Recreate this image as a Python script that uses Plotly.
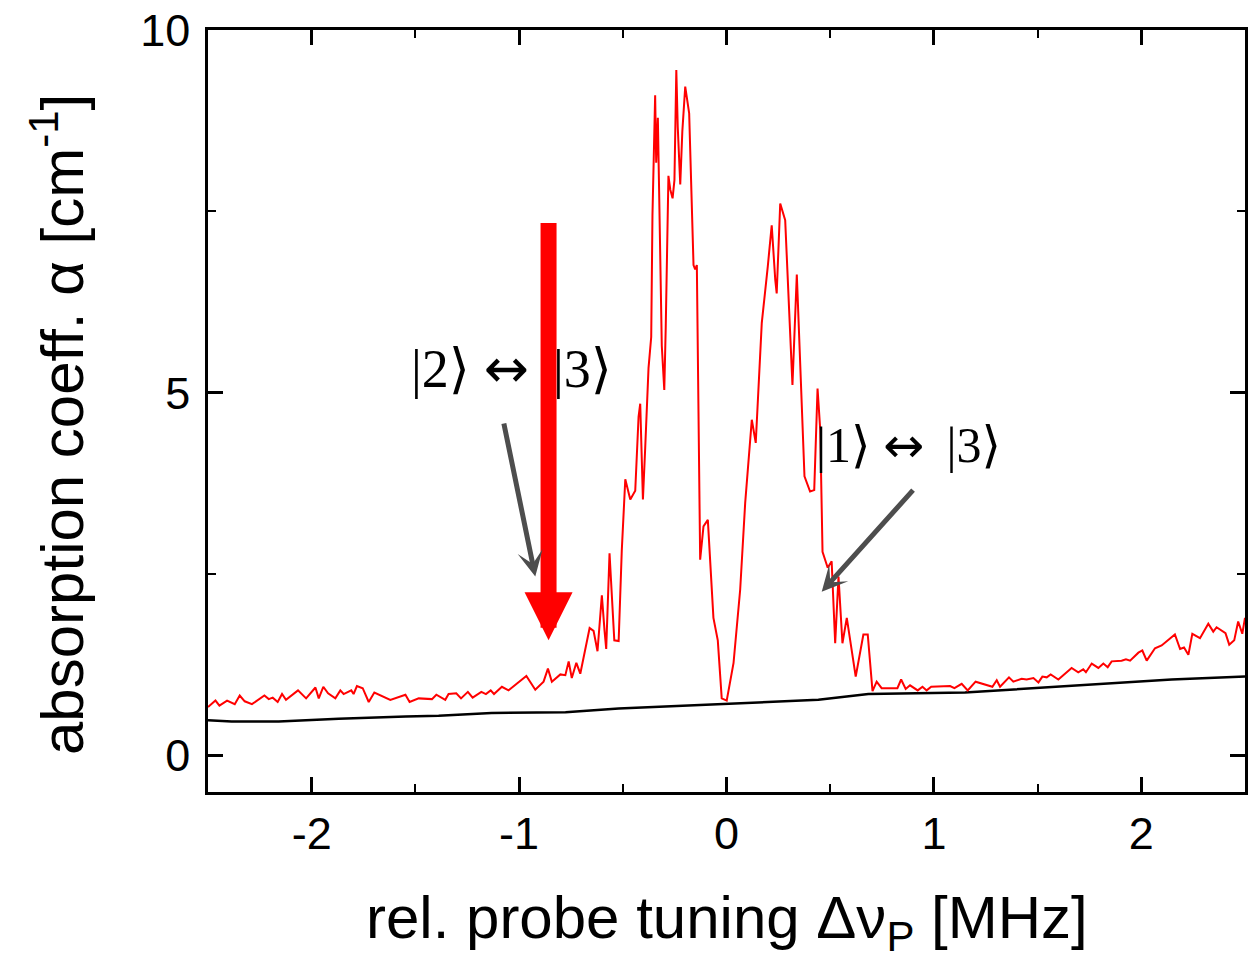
import plotly.graph_objects as go

# ---- data ----
red_x = [-2.50,-2.464,-2.445,-2.408,-2.371,-2.347,-2.323,-2.288,-2.228,-2.207,
         -2.188,-2.164,-2.143,-2.124,-2.066,-2.027,-1.982,-1.966,-1.944,-1.921,
         -1.886,-1.862,-1.846,-1.809,-1.798,-1.782,-1.754,-1.725,-1.698,-1.621,
         -1.548,-1.528,-1.484,-1.420,-1.399,-1.356,-1.340,-1.303,-1.280,-1.247,
         -1.224,-1.182,-1.160,-1.137,-1.121,-1.083,-1.051,-0.965,-0.922,-0.882,
         -0.861,-0.842,-0.801,-0.777,-0.761,-0.746,-0.724,-0.705,
         -0.660,-0.641,-0.622,-0.601,-0.588,-0.580,-0.564,-0.553,-0.541,-0.520,
         -0.505,-0.488,-0.464,-0.440,-0.424,-0.416,-0.403,-0.392,-0.376,-0.363,
         -0.357,-0.344,-0.339,-0.331,-0.320,-0.312,-0.300,-0.293,-0.280,-0.271,
         -0.260,-0.251,-0.242,-0.235,-0.223,-0.213,-0.199,-0.180,-0.159,-0.151,
         -0.143,-0.127,-0.111,-0.090,-0.063,-0.042,-0.023,0.001,
         0.034,0.066,0.090,0.122,0.141,0.154,0.170,0.199,0.218,0.235,
         0.242,0.259,0.283,0.302,0.318,0.339,0.360,0.376,0.403,0.423,
         0.439,0.452,0.463,0.488,0.507,0.524,0.540,0.559,0.580,0.623,
         0.660,0.681,0.704,0.724,0.748,0.824,
         0.842,0.864,0.885,0.922,0.945,0.965,0.987,1.078,1.099,1.134,
         1.163,1.201,1.282,1.303,1.319,1.362,1.383,1.423,1.447,1.480,
         1.504,1.523,1.544,1.563,1.600,1.664,1.696,1.720,1.733,1.761,
         1.793,1.817,1.838,1.857,1.905,1.926,1.946,1.986,2.005,2.026,
         2.066,2.098,2.162,2.187,2.206,2.227,2.246,2.283,2.323,2.347,
         2.363,2.406,2.424,2.448,2.467,2.487,2.50]
red_y = [0.67,0.76,0.69,0.76,0.71,0.83,0.75,0.71,0.83,0.78,
         0.80,0.74,0.85,0.77,0.90,0.79,0.94,0.79,0.95,0.86,
         0.79,0.90,0.85,0.90,0.85,0.96,0.93,0.74,0.87,0.77,
         0.84,0.74,0.79,0.78,0.84,0.77,0.85,0.86,0.79,0.88,
         0.80,0.88,0.85,0.90,0.85,0.95,0.90,1.10,0.91,1.02,
         1.20,1.02,1.12,1.11,1.30,1.07,1.28,1.13,
         1.76,1.72,1.44,2.21,1.72,1.47,2.79,2.27,1.59,1.58,
         2.82,3.81,3.53,3.65,4.67,4.85,3.53,4.24,5.34,5.77,
         7.44,9.10,8.17,8.79,6.70,5.65,5.04,5.90,7.99,7.80,
         7.68,7.93,9.45,8.66,7.87,8.60,9.22,8.85,6.76,6.70,
         6.76,2.70,3.16,3.25,1.90,1.59,0.79,0.76,
         1.28,2.29,3.48,4.63,4.31,5.04,5.96,6.74,7.31,6.56,
         6.37,7.61,7.38,6.14,5.11,6.63,5.13,3.85,3.64,3.66,
         5.06,4.49,2.81,2.59,2.68,1.55,2.47,1.55,1.90,1.09,
         1.67,1.67,0.89,1.02,0.93,0.93,
         1.05,0.92,0.97,0.90,0.95,0.90,0.95,0.96,0.93,0.99,
         0.90,1.02,0.95,1.04,0.95,1.08,1.02,1.06,1.05,1.07,
         1.01,1.09,1.08,1.12,1.05,1.21,1.15,1.19,1.15,1.27,
         1.21,1.27,1.22,1.30,1.31,1.33,1.31,1.42,1.45,1.31,
         1.48,1.52,1.67,1.47,1.49,1.39,1.68,1.62,1.82,1.71,
         1.77,1.69,1.53,1.59,1.85,1.68,1.90]
assert len(red_x) == len(red_y), (len(red_x), len(red_y))

black_x = [-2.50,-2.386,-2.159,-1.870,-1.547,-1.388,-1.133,-0.776,-0.520,0.0,
           0.443,0.684,0.925,1.150,2.146,2.50]
black_y = [0.49,0.47,0.47,0.51,0.54,0.55,0.59,0.60,0.65,0.72,
           0.77,0.85,0.86,0.87,1.05,1.09]

x_ticks = [-2, -1, 0, 1, 2]
x_ticktext = ["-2", "-1", "0", "1", "2"]
y_ticks = [0, 5, 10]

# annotation geometry (data units)
red_arrow = dict(x=-0.858, tail=7.36, tip=1.59)
label_23 = dict(x=-1.035, y=5.33, kets=("|2⟩", "|3⟩"))
label_13 = dict(x=0.876, y=4.27, kets=("|1⟩", "|3⟩"))
gray_arrow_23 = dict(tail=(-1.075, 4.60), tip=(-0.922, 2.47))
gray_arrow_13 = dict(tail=(0.906, 3.68), tip=(0.459, 2.26))

FONT = "Arial, Liberation Sans, sans-serif"
SERIF = "Liberation Serif, DejaVu Serif, serif"


def ket_label(kets, size):
    arrow = "<span style='font-family:DejaVu Sans; font-size:%dpx'>↔</span>" % int(size)
    return "%s %s \u2009%s" % (kets[0], arrow, kets[1])


fig = go.Figure()
fig.add_trace(go.Scatter(x=black_x, y=black_y, mode="lines",
                         line=dict(color="black", width=2.5), showlegend=False))
fig.add_trace(go.Scatter(x=red_x, y=red_y, mode="lines",
                         line=dict(color="#ff0000", width=2), showlegend=False))

annotations = []
# big red arrow
annotations.append(dict(x=red_arrow["x"], y=red_arrow["tip"], ax=red_arrow["x"], ay=red_arrow["tail"],
                        xref="x", yref="y", axref="x", ayref="y", text="", showarrow=True,
                        arrowhead=2, arrowsize=0.6, arrowwidth=16, arrowcolor="#ff0000", standoff=0))
for g in (gray_arrow_23, gray_arrow_13):
    annotations.append(dict(x=g["tip"][0], y=g["tip"][1], ax=g["tail"][0], ay=g["tail"][1],
                            xref="x", yref="y", axref="x", ayref="y", text="", showarrow=True,
                            arrowhead=3, arrowsize=0.85, arrowwidth=5, arrowcolor="#4d4d4d", standoff=0))
annotations.append(dict(x=label_23["x"], y=label_23["y"], xref="x", yref="y",
                        text=ket_label(label_23["kets"], 54),
                        showarrow=False, font=dict(family=SERIF, size=54, color="black")))
annotations.append(dict(x=label_13["x"], y=label_13["y"], xref="x", yref="y",
                        text=ket_label(label_13["kets"], 49),
                        showarrow=False, font=dict(family=SERIF, size=50, color="black")))
# axis titles
annotations.append(dict(x=0, y=0.5, xref="paper", yref="paper", xanchor="center", yanchor="middle",
                        xshift=-150, yshift=-14, textangle=-90, showarrow=False,
                        text="absorption coeff. α [cm<sup>-1</sup>]",
                        font=dict(family=FONT, size=60, color="black")))
annotations.append(dict(x=0.5, y=0, xref="paper", yref="paper", xanchor="center", yanchor="middle",
                        yshift=-130, showarrow=False,
                        text="rel. probe tuning Δν<sub>P</sub> [MHz]",
                        font=dict(family=FONT, size=60, color="black")))

axis_common = dict(showline=True, linewidth=2.5, linecolor="black", mirror="ticks",
                   ticks="inside", ticklen=15, tickwidth=2.5, tickcolor="black",
                   showgrid=False, zeroline=False,
                   tickfont=dict(family=FONT, size=45, color="black"))

fig.update_layout(
    width=1253, height=962,
    margin=dict(l=208, r=5, t=30, b=170),
    paper_bgcolor="white", plot_bgcolor="white",
    annotations=annotations,
    xaxis=dict(range=[-2.5, 2.5], tickvals=x_ticks, ticktext=x_ticktext,
               minor=dict(tickvals=[-2.5, -1.5, -0.5, 0.5, 1.5, 2.5], ticks="inside", ticklen=8,
                          tickwidth=2, tickcolor="black", showgrid=False),
               **axis_common),
    yaxis=dict(range=[-0.5, 10], tickvals=y_ticks, ticklabelstandoff=6,
               minor=dict(tickvals=[2.5, 7.5], ticks="inside", ticklen=8,
                          tickwidth=2, tickcolor="black", showgrid=False),
               **axis_common),
)

fig.write_html("out.html")
